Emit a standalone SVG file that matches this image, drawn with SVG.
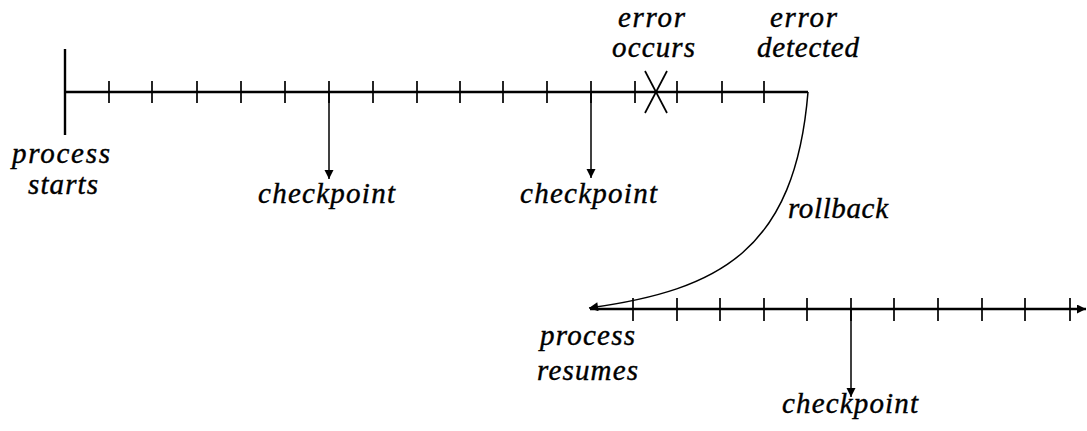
<svg xmlns="http://www.w3.org/2000/svg" width="1087" height="431" viewBox="0 0 1087 431">
<style>
.tl{stroke:#000;stroke-width:2.4;fill:none}
.tk{stroke:#000;stroke-width:1.7;fill:none}
.ar{stroke:#000;stroke-width:1.5;fill:none}
.lb{font-family:'Liberation Serif','DejaVu Serif','Times New Roman',serif;font-style:italic;font-size:29px;fill:#000;stroke:#000;stroke-width:0.4}
</style>
<defs>
<marker id="ah" viewBox="0 0 10 10" refX="10" refY="5" markerWidth="9" markerHeight="10" markerUnits="userSpaceOnUse" orient="auto">
<path d="M0,0 L10,5 L0,10 Z" fill="#000"/>
</marker>
<marker id="ahb" viewBox="0 0 10 10" refX="10" refY="5" markerWidth="11" markerHeight="9" markerUnits="userSpaceOnUse" orient="auto">
<path d="M0,0 L10,5 L0,10 Z" fill="#000"/>
</marker>
</defs>
<g id="timeline-top">
<line class="tl" x1="65" y1="92" x2="808" y2="92"/>
<line class="tl" x1="65" y1="49" x2="65" y2="135"/>
<path class="tk" d="M109,81V103M152,81V103M197,81V103M241,81V103M285,81V103M329,81V103M373,81V103M417,81V103M460,81V103M503,81V103M547,81V103M591,81V103M635,81V103M677,81V103M722,81V103M764,81V103"/>
</g>
<g id="error-mark">
<line class="tk" x1="645" y1="71" x2="667" y2="113"/>
<line class="tk" x1="667" y1="71" x2="645" y2="113"/>
</g>
<g id="timeline-bottom">
<line class="tl" x1="590" y1="309" x2="1086" y2="309" marker-end="url(#ahb)"/>
<path class="tk" d="M633,298V321M677,298V321M720,298V321M764,298V321M807,298V321M851,298V321M894,298V321M938,298V321M982,298V321M1025,298V321M1070,298V321"/>
</g>
<g id="connectors">
<line class="ar" x1="329" y1="92" x2="329" y2="179" marker-end="url(#ah)"/>
<line class="ar" x1="591" y1="92" x2="591" y2="178" marker-end="url(#ah)"/>
<line class="ar" x1="851" y1="309" x2="851" y2="397" marker-end="url(#ah)"/>
<path class="ar" d="M808,92 C795,250 720,290 589,308" marker-end="url(#ahb)"/>
</g>
<g id="labels">
<text class="lb" x="12" y="163" textLength="98">process</text>
<text class="lb" x="28" y="194" textLength="70">starts</text>
<text class="lb" x="258" y="203" textLength="137">checkpoint</text>
<text class="lb" x="520" y="203" textLength="137">checkpoint</text>
<text class="lb" x="782" y="413" textLength="136">checkpoint</text>
<text class="lb" x="788" y="218" textLength="100">rollback</text>
<text class="lb" x="540" y="345" textLength="95">process</text>
<text class="lb" x="537" y="380" textLength="101">resumes</text>
<text class="lb" x="618" y="27" textLength="67">error</text>
<text class="lb" x="612" y="57" textLength="83">occurs</text>
<text class="lb" x="770" y="27" textLength="67">error</text>
<text class="lb" x="757" y="57" textLength="102">detected</text>
</g>
</svg>
